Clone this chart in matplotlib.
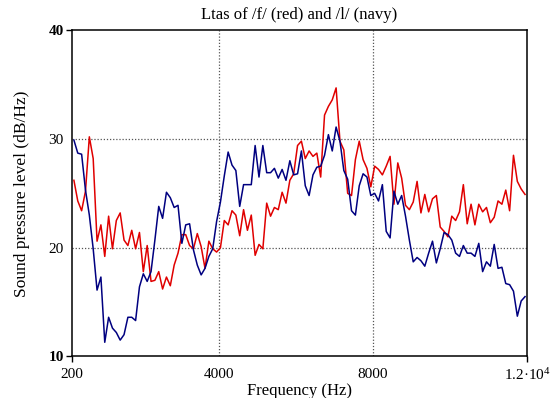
import numpy as np
import matplotlib
matplotlib.use("Agg")
import matplotlib.pyplot as plt

plt.rcParams['font.family'] = ['Liberation Serif', 'DejaVu Serif']
plt.rcParams['mathtext.default'] = 'regular'

# Ltas bin centres (100 Hz bins) shown between 200 and 12000 Hz
freq = np.arange(250, 12000, 100)

# /f/ (red), dB/Hz
ltas_f = [26.2, 24.3, 23.4, 25.2, 30.2, 28.2, 20.6, 22.1, 19.2, 22.9,
          19.9, 22.5, 23.2, 20.7, 20.2, 21.6, 19.9, 21.4, 17.8, 20.2,
          16.9, 17.0, 17.8, 16.2, 17.3, 16.5, 18.4, 19.5, 21.2, 21.2,
          20.2, 19.9, 21.3, 20.1, 18.1, 20.6, 19.9, 19.6, 20.0, 22.5,
          22.1, 23.4, 23.0, 21.1, 23.5, 21.6, 23.0, 19.3, 20.3, 19.9,
          24.1, 22.9, 23.7, 23.5, 25.1, 24.1, 26.2, 26.8, 29.4, 29.8,
          28.2, 28.9, 28.4, 28.7, 26.5, 32.2, 33.0, 33.6, 34.7, 29.8,
          29.0, 25.0, 24.8, 28.1, 29.8, 28.1, 27.3, 25.6, 27.5, 27.2,
          26.7, 27.5, 28.4, 24.0, 27.8, 26.4, 23.9, 23.5, 24.2, 26.1,
          23.2, 24.9, 23.3, 24.5, 24.8, 21.9, 21.5, 21.0, 22.9, 22.5,
          23.3, 25.8, 22.2, 24.0, 22.1, 24.0, 23.3, 23.7, 22.3, 22.8,
          24.3, 24.0, 25.3, 23.4, 28.5, 26.1, 25.4, 24.9]

# /l/ (navy), dB/Hz
ltas_l = [29.9, 28.7, 28.6, 25.3, 23.0, 19.9, 16.1, 17.3, 11.3, 13.6,
          12.6, 12.2, 11.5, 12.0, 13.6, 13.6, 13.3, 16.4, 17.6, 16.9,
          17.8, 20.7, 23.8, 22.7, 25.1, 24.6, 23.7, 23.9, 20.4, 22.1,
          22.2, 19.8, 18.4, 17.5, 18.1, 19.2, 19.9, 22.4, 24.2, 26.6,
          28.8, 27.6, 27.1, 23.8, 25.8, 25.8, 25.8, 29.4, 26.5, 29.4,
          26.9, 26.9, 27.3, 26.4, 27.2, 26.2, 28.0, 26.7, 26.8, 28.9,
          25.7, 24.8, 26.7, 27.4, 27.5, 28.5, 30.4, 28.9, 31.1, 29.8,
          27.1, 26.3, 23.4, 23.0, 25.7, 26.8, 26.5, 24.8, 25.0, 24.3,
          25.8, 21.5, 20.9, 25.2, 24.0, 24.8, 22.9, 20.7, 18.7, 19.1,
          18.8, 18.3, 19.5, 20.6, 18.6, 19.9, 21.4, 21.2, 20.7, 19.5,
          19.2, 20.2, 19.5, 19.5, 19.2, 20.4, 17.8, 18.7, 18.3, 20.3,
          18.1, 18.2, 16.7, 16.6, 16.0, 13.7, 15.1, 15.5]

x_end_ticks = [200, 12000]
x_end_labels = ['200', '1.2·10$^{4}$']
x_mid_ticks = [4000, 8000]
y_end_ticks = [10, 40]
y_mid_ticks = [20, 30]

fig = plt.figure(figsize=(5.55, 3.98), dpi=100)
ax = fig.add_axes([0.1297, 0.1045, 0.8198, 0.8194])

for xv in x_mid_ticks:
    ax.axvline(xv, color='#555555', lw=0.9, ls=(0, (1, 1.5)), zorder=1)
for yv in y_mid_ticks:
    ax.axhline(yv, color='#555555', lw=0.9, ls=(0, (1, 1.5)), zorder=1)

ax.plot(freq, ltas_f, color='#e00000', lw=1.1, zorder=3)
ax.plot(freq, ltas_l, color='#000080', lw=1.1, zorder=3)

ax.set_xlim(200, 12000)
ax.set_ylim(10, 40)

ax.set_xticks(x_end_ticks)
ax.set_xticklabels(x_end_labels)
ax.set_xticks(x_mid_ticks, minor=True)
ax.set_xticklabels([str(v) for v in x_mid_ticks], minor=True)
ax.set_yticks(y_end_ticks)
ax.set_yticklabels([str(v) for v in y_end_ticks], fontweight='bold')
ax.set_yticks(y_mid_ticks, minor=True)
ax.set_yticklabels([str(v) for v in y_mid_ticks], minor=True)

ax.tick_params(which='major', direction='out', length=4, width=1,
               labelsize=11, pad=2, colors='black')
ax.tick_params(which='minor', length=0, labelsize=11, pad=6)
ax.tick_params(axis='x', which='both', pad=4)
ax.tick_params(axis='x', which='minor', pad=8)

for s in ax.spines.values():
    s.set_linewidth(1.1)
    s.set_color('black')
    s.set_zorder(4)

ax.set_title('Ltas of /f/ (red) and /l/ (navy)', fontsize=12, pad=8)
ax.set_xlabel('Frequency (Hz)', fontsize=12, labelpad=0)
ax.set_ylabel('Sound pressure level (dB/Hz)', fontsize=12.5, labelpad=13)

fig.savefig('out.png', dpi=100)
